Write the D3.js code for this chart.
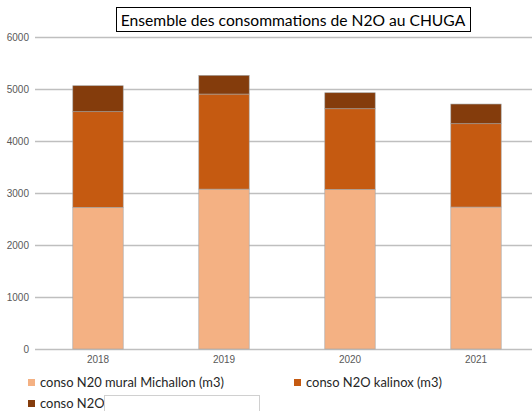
<!DOCTYPE html>
<html>
<head>
<meta charset="utf-8">
<script src="https://cdn.jsdelivr.net/npm/d3@7"></script>
<style>
  body { margin: 0; background: #fff; }
  svg { display: block; }
</style>
</head>
<body>
<svg id="chart" width="532" height="411"></svg>
<script>
// ===== data =====
var years = ["2018", "2019", "2020", "2021"];
var michallon = [2725, 3075, 3070, 2730];
var kalinox = [1838, 1828, 1550, 1602];
var autre = [500, 360, 308, 379];
var seriesNames = ["conso N20 mural Michallon (m3)", "conso N2O kalinox (m3)", "conso N2O"];
var seriesColors = ["#F4B183", "#C55A11", "#843C0C"];
var yTicks = [0, 1000, 2000, 3000, 4000, 5000, 6000];
var titleText = "Ensemble des consommations de N2O au CHUGA";

var svg = d3.select("#chart");
var margin = { top: 37, left: 35, bottom: 62 };
var plotRight = 539;
var plotBottom = 411 - margin.bottom;
var font = "Lato, 'Open Sans', sans-serif";

// stacked rows
var rows = years.map(function(y, i) {
  return { year: y, s0: michallon[i], s1: kalinox[i], s2: autre[i] };
});
var stack = d3.stack().keys(["s0", "s1", "s2"]);
var stacked = stack(rows);

var x = d3.scaleBand().domain(years).range([margin.left, plotRight]).paddingInner(0.6).paddingOuter(0.3);
var y = d3.scaleLinear().domain([0, 6000]).range([plotBottom, margin.top]);

// ===== gridlines + y labels =====
svg.append("g")
  .attr("transform", "translate(" + margin.left + ",0)")
  .attr("font-family", font)
  .attr("font-size", 7)
  .call(d3.axisLeft(y).tickValues(yTicks).tickFormat(d3.format("d"))
    .tickSize(-(plotRight - margin.left)).tickPadding(6))
  .call(function(g) { g.select(".domain").remove(); })
  .call(function(g) {
    g.selectAll(".tick line").attr("stroke", "#bfbfbf").attr("stroke-width", 1.5);
    g.selectAll(".tick text").attr("fill", "#595959");
  });

// ===== bars =====
svg.append("g").selectAll("g")
  .data(stacked)
  .join("g")
  .attr("fill", function(d, i) { return seriesColors[i]; })
  .selectAll("rect")
  .data(function(d) { return d; })
  .join("rect")
  .attr("x", function(d) { return x(d.data.year); })
  .attr("width", x.bandwidth())
  .attr("y", function(d) { return y(d[1]); })
  .attr("height", function(d) { return y(d[0]) - y(d[1]); })
  .attr("stroke", "#a6a6a6")
  .attr("stroke-width", 0.6);

// ===== x labels =====
svg.append("g")
  .attr("transform", "translate(0," + plotBottom + ")")
  .attr("font-family", font)
  .attr("font-size", 7)
  .call(d3.axisBottom(x).tickSize(0).tickPadding(7))
  .call(function(g) { g.select(".domain").remove(); })
  .call(function(g) { g.selectAll(".tick text").attr("fill", "#595959"); });

// ===== title =====
var title = svg.append("text")
  .attr("x", 293)
  .attr("y", 25.5)
  .attr("text-anchor", "middle")
  .attr("font-family", font)
  .attr("font-size", 17)
  .attr("fill", "#000")
  .text(titleText);
var tw = title.node().getComputedTextLength();
if (tw > 0) title.attr("font-size", 17 * 345 / tw);
svg.append("rect")
  .attr("x", 116.5).attr("y", 7.5)
  .attr("width", 354).attr("height", 24)
  .attr("fill", "none").attr("stroke", "#000").attr("stroke-width", 1);

// ===== legend =====
var legendPos = [[28, 387], [294, 387], [28, 408]];
var legend = svg.append("g")
  .attr("font-family", font)
  .attr("font-size", 13)
  .attr("fill", "#262626");
seriesNames.forEach(function(name, i) {
  var p = legendPos[i];
  legend.append("rect").attr("x", p[0]).attr("y", p[1] - 8).attr("width", 7).attr("height", 7)
    .attr("fill", seriesColors[i]);
  var t = legend.append("text").attr("x", p[0] + 12).attr("y", p[1]).text(name);
  if (i === 0) {
    var w = t.node().getComputedTextLength();
    if (w > 0) legend.attr("font-size", 13 * 184 / w);
  }
});

// white box covering the rest of the third label
svg.append("rect")
  .attr("x", 104.5).attr("y", 395.5)
  .attr("width", 155).attr("height", 30)
  .attr("fill", "#fff").attr("stroke", "#d0d0d0").attr("stroke-width", 1);
</script>
</body>
</html>
